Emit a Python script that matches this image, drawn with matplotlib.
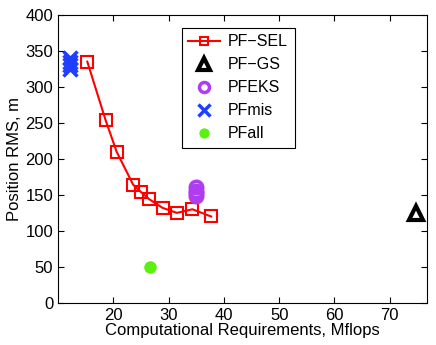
import matplotlib
matplotlib.use('Agg')
import matplotlib.pyplot as plt

plt.rcParams['font.family'] = ['Liberation Sans', 'DejaVu Sans']

# PF-SEL curve
sel_x = [15.3, 18.6, 20.6, 23.6, 25.0, 26.5, 28.9, 31.5, 34.3, 37.7]
sel_y = [335, 254, 210, 164, 154, 144, 132, 125, 130, 120]

# single-point methods
gs_x, gs_y = [74.7], [125]
eks_x = [34.9, 34.9, 34.9, 34.9]
eks_y = [161, 156, 152, 148]
mis_x = [12.1, 12.2, 12.1, 12.2]
mis_y = [340, 335, 330, 325]
all_x, all_y = [26.6], [50]

fig = plt.figure(figsize=(4.36, 3.45), dpi=100)
ax = fig.add_axes([0.133, 0.122, 0.846, 0.835])

ax.plot(sel_x, sel_y, '-s', color='red', lw=1.5, ms=8, mfc='none',
        mew=1.5, label='PF\u2212SEL')
ax.plot(gs_x, gs_y, '^', color='black', ms=10, mfc='none', mew=3,
        ls='none', label='PF\u2212GS')
ax.plot(eks_x, eks_y, 'o', color='#b03cf0', ms=9, mfc='none', mew=2.5,
        ls='none', label='PFEKS')
ax.plot(mis_x, mis_y, 'x', color='#1f3fff', ms=10, mew=2.5,
        ls='none', label='PFmis')
ax.plot(all_x, all_y, 'o', color='#5af010', ms=8, ls='none', label='PFall')

ax.set_xlim(10, 76.7)
ax.set_ylim(0, 400)
ax.set_xticks(range(20, 71, 10))
ax.set_yticks(range(0, 401, 50))
ax.tick_params(direction='in', top=True, right=True, labelsize=12, length=4)
for s in ax.spines.values():
    s.set_linewidth(0.8)

ax.set_xlabel('Computational Requirements, Mflops', fontsize=12, labelpad=0)
ax.set_ylabel('Position RMS, m', fontsize=12, labelpad=2)

leg = ax.legend(loc='upper left', bbox_to_anchor=(0.336, 0.955), fontsize=11.5,
                fancybox=False, framealpha=1, edgecolor='black',
                handlelength=2.0, borderpad=0.4, labelspacing=0.5,
                handletextpad=0.5, borderaxespad=0, markerscale=0.8)
leg.get_frame().set_linewidth(0.8)

fig.savefig('out.png', dpi=100)
